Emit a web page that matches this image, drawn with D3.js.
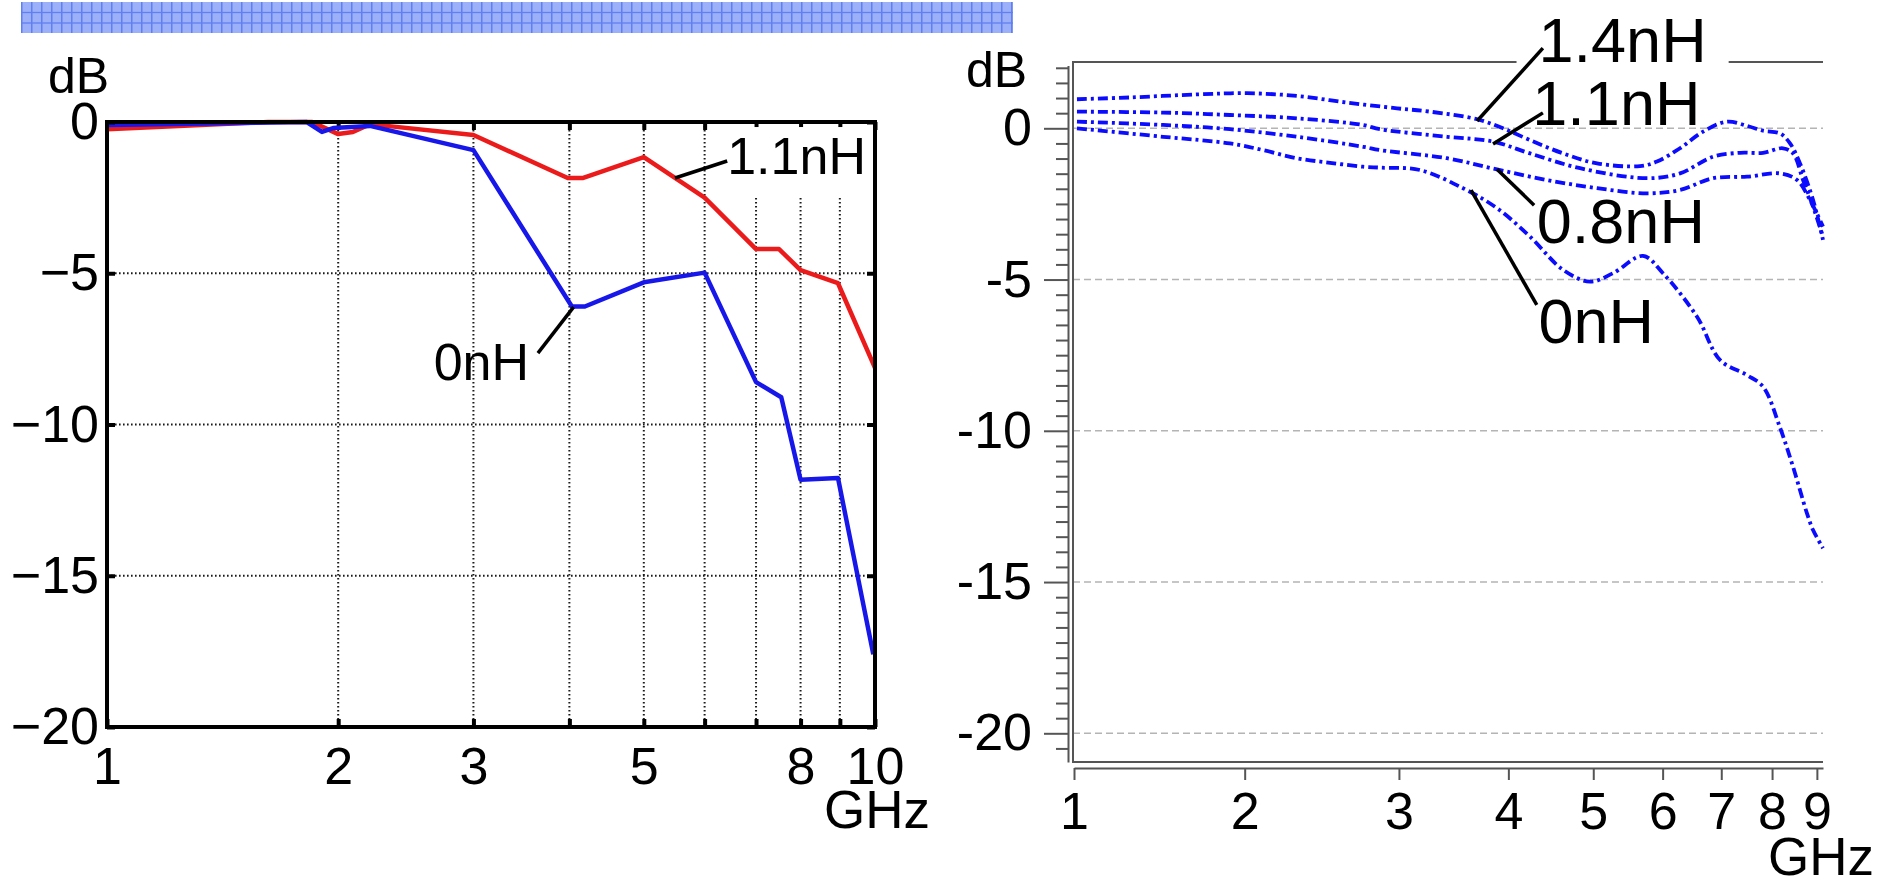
<!DOCTYPE html>
<html>
<head>
<meta charset="utf-8">
<script src="https://cdn.jsdelivr.net/npm/d3@7"></script>
<style>
  body { margin: 0; background: #fff; }
  svg { display: block; }
</style>
</head>
<body>
<div id="chart"></div>
<script>
// ---- left panel: measured, 1.1nH (red) vs 0nH (blue), GHz / dB ----
const leftFreqRed = [1.0, 1.62, 1.85, 2.0, 2.09, 2.2, 3.0, 3.98, 4.17, 5.0, 6.0, 7.0, 7.5, 8.0, 8.95, 10.0];
const leftDbRed = [-0.24, 0, 0, -0.4, -0.33, -0.07, -0.43, -1.85, -1.85, -1.16, -2.5, -4.2, -4.2, -4.9, -5.33, -8.13];
const leftFreqBlue = [1.0, 1.82, 1.905, 1.97, 2.2, 3.0, 4.03, 4.19, 5.0, 6.0, 7.0, 7.55, 8.0, 8.95, 9.95];
const leftDbBlue = [-0.1, 0, -0.33, -0.2, -0.13, -0.93, -6.1, -6.1, -5.3, -4.98, -8.6, -9.1, -11.83, -11.77, -17.6];
const leftXTicks = [1, 2, 3, 4, 5, 6, 7, 8, 9, 10];
const leftXLabelled = [1, 2, 3, 5, 8, 10];
const leftYTicks = [0, -5, -10, -15, -20];

// ---- right panel: simulated, four inductance values ----
const rightFreq14 = [1.287, 1.48, 1.765, 2.012, 2.295, 2.617, 2.985, 3.256, 3.684, 3.944, 4.234, 4.619, 5.05, 5.653, 5.911, 6.28, 6.673, 7.108, 7.491, 7.813, 8.17, 8.387, 8.61, 8.91, 9.146];
const rightDb14 = [0.96, 1.02, 1.12, 1.16, 1.07, 0.85, 0.66, 0.55, 0.30, 0.0, -0.39, -0.83, -1.16, -1.25, -1.1, -0.66, -0.11, 0.22, 0.08, -0.08, -0.17, -0.5, -1.16, -2.37, -3.69];
const rightFreq11 = [1.287, 1.614, 1.924, 2.295, 2.73, 2.855, 3.404, 3.842, 4.234, 4.83, 5.759, 6.28, 6.85, 7.354, 7.813, 8.234, 8.453, 8.679, 8.91, 9.146];
const rightDb11 = [0.55, 0.52, 0.44, 0.33, 0.11, -0.03, -0.28, -0.44, -0.83, -1.32, -1.65, -1.49, -0.94, -0.81, -0.81, -0.66, -0.83, -1.71, -2.59, -3.58];
const rightFreq08 = [1.287, 1.614, 1.924, 2.295, 2.73, 2.855, 3.404, 3.882, 4.428, 5.05, 5.759, 6.28, 6.85, 7.491, 8.17, 8.543, 8.839, 9.146];
const rightDb08 = [0.22, 0.11, -0.03, -0.28, -0.61, -0.72, -0.99, -1.36, -1.71, -1.98, -2.15, -2.04, -1.65, -1.6, -1.49, -1.71, -2.37, -3.25];
const rightFreq00 = [1.287, 1.614, 1.924, 2.099, 2.295, 2.503, 2.73, 2.855, 3.171, 3.55, 3.882, 4.234, 4.619, 4.958, 5.267, 5.698, 6.005, 6.568, 6.978, 7.491, 7.813, 8.17, 8.453, 8.769, 8.91, 9.146];
const rightDb00 = [0.0, -0.28, -0.5, -0.72, -0.99, -1.14, -1.27, -1.30, -1.38, -1.98, -2.64, -3.58, -4.68, -5.07, -4.79, -4.22, -4.79, -6.23, -7.66, -8.16, -8.54, -9.9, -11.19, -12.73, -13.28, -13.88];
// the sweep starts a bit above 1 GHz but the first tick is labelled "1"
const rightXTicks = [1.277, 2, 3, 4, 5, 6, 7, 8, 9];
const rightXLabels = ["1", "2", "3", "4", "5", "6", "7", "8", "9"];
const rightYTicks = [0, -5, -10, -15, -20];

// annotations, anchored in data units: [freq, dB]
const leftNotes = [
    { text: "1.1nH", from: [5.49, -1.85], to: [6.42, -1.29], at: [6.42, -1.72], anchor: "start", bg: true },
    { text: "0nH", from: [4.05, -6.12], to: [3.64, -7.64], at: [3.545, -8.53], anchor: "end", bg: false }
];
const rightNotes = [
    { text: "1.4nH", from: [3.684, 0.24], to: [4.38, 2.65], at: [4.33, 2.19], bg: true },
    { text: "1.1nH", from: [3.842, -0.52], to: [4.38, 0.51], at: [4.26, 0.11], bg: false },
    { text: "0.8nH", from: [3.882, -1.35], to: [4.28, -2.54], at: [4.31, -3.79], bg: false },
    { text: "0nH", from: [3.626, -2.04], to: [4.31, -5.84], at: [4.33, -7.1], bg: false }
];

const W = 1891, H = 877;
const FONT = "'Liberation Sans', Arial, Helvetica, sans-serif";

const svg = d3.select("#chart").append("svg")
    .attr("width", W)
    .attr("height", H)
    .attr("font-family", FONT);

// ---- banner at the top left ----
const pat = svg.append("defs").append("pattern")
    .attr("id", "banner")
    .attr("patternUnits", "userSpaceOnUse")
    .attr("x", 21).attr("y", 2)
    .attr("width", 10).attr("height", 31);
pat.append("rect").attr("width", 10).attr("height", 31).attr("fill", "#9bb0f8");
pat.append("line").attr("x1", 0.75).attr("x2", 0.75).attr("y1", 0).attr("y2", 31)
    .attr("stroke", "#5f7ff2").attr("stroke-width", 1.5);
[10.5, 21].forEach(y => pat.append("line").attr("x1", 0).attr("x2", 10).attr("y1", y).attr("y2", y)
    .attr("stroke", "#5f7ff2").attr("stroke-width", 1.3));
svg.append("rect").attr("x", 21).attr("y", 2).attr("width", 992).attr("height", 31)
    .attr("fill", "url(#banner)");

// ================= left panel =================
const L = { left: 107, right: 875, top: 122, bottom: 727 };
const xL = d3.scaleLog().domain([1, 10]).range([L.left, L.right]);
const yL = d3.scaleLinear().domain([-20, 0]).range([L.bottom, L.top]);
const gL = svg.append("g");

const dotted = sel => sel.attr("stroke", "#1a1a1a").attr("stroke-width", 2).attr("stroke-dasharray", "1.6,2.4");

// dotted grid
gL.selectAll(".vgrid").data(leftXTicks.filter(d => d > 1 && d < 10)).enter()
    .append("line").attr("class", "vgrid")
    .attr("x1", d => xL(d)).attr("x2", d => xL(d))
    .attr("y1", L.top).attr("y2", L.bottom)
    .call(dotted);
gL.selectAll(".hgrid").data(leftYTicks.filter(d => d < 0 && d > -20)).enter()
    .append("line").attr("class", "hgrid")
    .attr("x1", L.left).attr("x2", L.right)
    .attr("y1", d => yL(d)).attr("y2", d => yL(d))
    .call(dotted);

// inner tick marks on top and right edges
gL.append("g").attr("transform", "translate(0," + L.top + ")")
    .call(d3.axisTop(xL).tickValues(leftXTicks).tickSizeInner(-8).tickSizeOuter(0).tickFormat(""))
    .call(g => g.select(".domain").remove())
    .call(g => g.selectAll("line").attr("stroke", "#000").attr("stroke-width", 4));
gL.append("g").attr("transform", "translate(" + L.right + ",0)")
    .call(d3.axisRight(yL).tickValues(leftYTicks).tickSizeInner(-8).tickSizeOuter(0).tickFormat(""))
    .call(g => g.select(".domain").remove())
    .call(g => g.selectAll("line").attr("stroke", "#000").attr("stroke-width", 4));

// labels; the 1.1nH one sits on a white box that hides the grid behind it
const leftLabels = gL.append("g")
    .attr("font-size", 52);
leftNotes.forEach(n => {
    let t = leftLabels.append("text")
        .attr("x", xL(n.at[0]))
        .attr("y", yL(n.at[1]))
        .attr("text-anchor", n.anchor)
        .attr("fill", "#000")
        .text(n.text);
    if (n.bg) {
        let b = t.node().getBBox();
        leftLabels.insert("rect", "text")
            .attr("x", b.x - 2).attr("y", b.y)
            .attr("width", b.width + 6).attr("height", b.height + 12)
            .attr("fill", "#fff");
    }
});

// data lines
const lineL = d3.line().x(d => xL(d[0])).y(d => yL(d[1]));
gL.append("path").datum(d3.zip(leftFreqRed, leftDbRed))
    .attr("d", lineL).attr("fill", "none")
    .attr("stroke", "#ec1b1b").attr("stroke-width", 4.5).attr("stroke-linejoin", "round");
gL.append("path").datum(d3.zip(leftFreqBlue, leftDbBlue))
    .attr("d", lineL).attr("fill", "none")
    .attr("stroke", "#1717ea").attr("stroke-width", 4.5).attr("stroke-linejoin", "round");

// frame
gL.append("rect")
    .attr("x", L.left).attr("y", L.top)
    .attr("width", L.right - L.left).attr("height", L.bottom - L.top)
    .attr("fill", "none").attr("stroke", "#000").attr("stroke-width", 4);

// axes with labels
gL.append("g").attr("transform", "translate(" + L.left + ",0)")
    .call(d3.axisLeft(yL).tickValues(leftYTicks).tickSizeInner(-8).tickSizeOuter(0).tickPadding(8)
        .tickFormat(d => d === 0 ? "0" : "\u2212" + Math.abs(d)))
    .attr("font-size", 52).attr("font-family", FONT)
    .call(g => g.select(".domain").remove())
    .call(g => g.selectAll("line").attr("stroke", "#000").attr("stroke-width", 4))
    .call(g => g.selectAll("text").attr("fill", "#000"));
gL.append("g").attr("transform", "translate(0," + L.bottom + ")")
    .call(d3.axisBottom(xL).tickValues(leftXTicks).tickSizeInner(-8).tickSizeOuter(0).tickPadding(20)
        .tickFormat(d => leftXLabelled.includes(d) ? String(d) : ""))
    .attr("font-size", 52).attr("font-family", FONT)
    .call(g => g.select(".domain").remove())
    .call(g => g.selectAll("line").attr("stroke", "#000").attr("stroke-width", 4))
    .call(g => g.selectAll("text").attr("fill", "#000"));

gL.append("text").attr("x", 48).attr("y", 93).attr("font-size", 50).text("dB");
gL.append("text").attr("x", 824).attr("y", 828).attr("font-size", 53).text("GHz");

// leader lines
gL.selectAll(".leader").data(leftNotes).enter()
    .append("line").attr("class", "leader")
    .attr("x1", d => xL(d.from[0])).attr("y1", d => yL(d.from[1]))
    .attr("x2", d => xL(d.to[0])).attr("y2", d => yL(d.to[1]))
    .attr("stroke", "#000").attr("stroke-width", 3.5);

// ================= right panel =================
const R = { left: 1073, right: 1823, top: 62, bottom: 762, axisX: 1068, axisY: 768 };
const xR = d3.scaleLog().domain([1.277, 9.146]).range([1074, R.right]);
const yR = d3.scaleLinear().domain([-20, 0]).range([733.3, 128.3]);
const gR = svg.append("g");
const GREY = "#555";

// dashed grid
gR.selectAll(".hgrid").data(rightYTicks).enter()
    .append("line").attr("class", "hgrid")
    .attr("x1", R.left).attr("x2", R.right)
    .attr("y1", d => yR(d)).attr("y2", d => yR(d))
    .attr("stroke", "#b4b4b4").attr("stroke-width", 1.5).attr("stroke-dasharray", "7,4");

// frame: left, top and bottom
gR.append("path")
    .attr("d", "M" + R.right + "," + R.top + "H" + R.left + "V" + R.bottom + "H" + R.right)
    .attr("fill", "none").attr("stroke", GREY).attr("stroke-width", 2);

// y axis sits just left of the frame, with minor ticks every 0.5 dB
const yAxisR = d3.scaleLinear().domain([-20.95, 2.08]).range([yR(-20.95), yR(2.08)]);
const minorR = d3.range(-20.5, 2.01, 0.5).filter(v => v % 5 !== 0);
gR.append("g").attr("transform", "translate(" + R.axisX + ",0)")
    .call(d3.axisLeft(yAxisR).tickValues(minorR).tickSizeInner(12).tickSizeOuter(0).tickFormat(""))
    .call(g => g.selectAll("line,path").attr("stroke", GREY).attr("stroke-width", 2));
gR.append("g").attr("transform", "translate(" + R.axisX + ",0)")
    .call(d3.axisLeft(yAxisR).tickValues(rightYTicks).tickSizeInner(24).tickSizeOuter(0).tickPadding(12)
        .tickFormat(d => String(d)))
    .attr("font-size", 52).attr("font-family", FONT)
    .call(g => g.select(".domain").remove())
    .call(g => g.selectAll("line").attr("stroke", GREY).attr("stroke-width", 2))
    .call(g => g.selectAll("text").attr("fill", "#000"));

// x axis below the frame
gR.append("g").attr("transform", "translate(0," + R.axisY + ")")
    .call(d3.axisBottom(xR).tickValues(rightXTicks).tickSizeInner(12).tickSizeOuter(0).tickPadding(12)
        .tickFormat((d, i) => rightXLabels[i]))
    .attr("font-size", 52).attr("font-family", FONT)
    .call(g => g.selectAll("line,path").attr("stroke", GREY).attr("stroke-width", 2))
    .call(g => g.selectAll("text").attr("fill", "#000"));

gR.append("text").attr("x", 966).attr("y", 87).attr("font-size", 50).text("dB");
gR.append("text").attr("x", 1768).attr("y", 875).attr("font-size", 53).text("GHz");

// curves
const lineR = d3.line().curve(d3.curveCatmullRom).x(d => xR(d[0])).y(d => yR(d[1]));
const rightSeries = [
    d3.zip(rightFreq14, rightDb14),
    d3.zip(rightFreq11, rightDb11),
    d3.zip(rightFreq08, rightDb08),
    d3.zip(rightFreq00, rightDb00)
];
gR.selectAll(".curve").data(rightSeries).enter()
    .append("path").attr("class", "curve")
    .attr("d", lineR).attr("fill", "none")
    .attr("stroke", "#0b0bff").attr("stroke-width", 3.8)
    .attr("stroke-dasharray", "10,4,3,4");

// labels and leaders
const rightLabels = gR.append("g").attr("font-size", 63);
rightNotes.forEach(n => {
    let t = rightLabels.append("text")
        .attr("x", xR(n.at[0]))
        .attr("y", yR(n.at[1]))
        .attr("fill", "#000")
        .text(n.text);
    if (n.bg) {
        let b = t.node().getBBox();
        rightLabels.insert("rect", "text")
            .attr("x", b.x - 22).attr("y", b.y)
            .attr("width", b.width + 44).attr("height", b.height)
            .attr("fill", "#fff");
    }
});
gR.selectAll(".leader").data(rightNotes).enter()
    .append("line").attr("class", "leader")
    .attr("x1", d => xR(d.from[0])).attr("y1", d => yR(d.from[1]))
    .attr("x2", d => xR(d.to[0])).attr("y2", d => yR(d.to[1]))
    .attr("stroke", "#000").attr("stroke-width", 3.5);
</script>
</body>
</html>
